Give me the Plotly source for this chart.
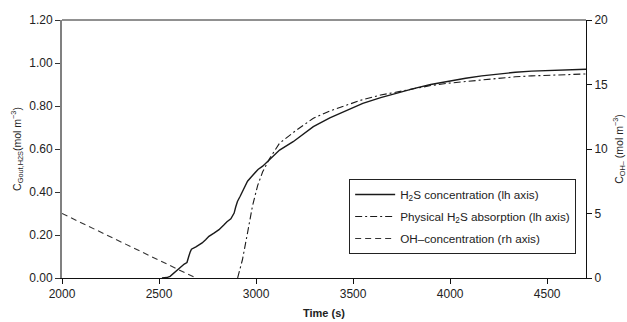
import plotly.graph_objects as go

# H2S concentration (left axis)
t_h2s = [2515, 2540, 2557, 2570, 2583, 2600, 2618, 2630, 2644, 2650, 2653, 2660, 2667, 2690,
         2722, 2740, 2757, 2785, 2809, 2835, 2850, 2870, 2887, 2895, 2904, 2918, 2930, 2945,
         2956, 2975, 2991, 3010, 3034, 3069, 3121, 3191, 3295, 3380, 3469, 3550, 3642, 3730,
         3816, 3900, 3990, 4080, 4163, 4250, 4336, 4420, 4510, 4600, 4700]
c_h2s = [0.0, 0.002, 0.008, 0.018, 0.03, 0.045, 0.057, 0.065, 0.072, 0.085, 0.10, 0.12, 0.134,
         0.145, 0.163, 0.178, 0.194, 0.21, 0.225, 0.248, 0.262, 0.275, 0.302, 0.33, 0.356, 0.38,
         0.40, 0.43, 0.45, 0.47, 0.488, 0.505, 0.52, 0.55, 0.595, 0.634, 0.704, 0.745, 0.781,
         0.812, 0.839, 0.862, 0.882, 0.90, 0.916, 0.929, 0.94, 0.95, 0.957, 0.962, 0.965, 0.969,
         0.971]

# Physical H2S absorption (left axis)
t_phys = [2905, 2930, 2956, 2982, 3008, 3034, 3069, 3121, 3208, 3295, 3380, 3469, 3550, 3642,
          3730, 3816, 3900, 3990, 4080, 4163, 4250, 4336, 4420, 4510, 4600, 4700]
c_phys = [0.0, 0.086, 0.21, 0.337, 0.43, 0.494, 0.555, 0.627, 0.688, 0.743, 0.777, 0.805, 0.83,
          0.851, 0.867, 0.882, 0.895, 0.906, 0.914, 0.921, 0.929, 0.936, 0.94, 0.943, 0.946, 0.949]

# OH- concentration (right axis)
t_oh = [2000, 2200, 2400, 2600, 2690]
c_oh = [5.0, 3.55, 2.1, 0.65, 0.0]

x_ticks = [2000, 2500, 3000, 3500, 4000, 4500]
yl_ticks = [0.0, 0.2, 0.4, 0.6, 0.8, 1.0, 1.2]
yr_ticks = [0, 5, 10, 15, 20]

FONT = "Liberation Sans, Arial, sans-serif"
ink = "#222222"

fig = go.Figure()
fig.add_trace(go.Scatter(x=t_h2s, y=c_h2s, mode="lines", legendgroup="a",
                         name="H<sub>2</sub>S concentration (lh axis)",
                         line=dict(color="#1a1a1a", width=1.4)))
fig.add_trace(go.Scatter(x=t_phys, y=c_phys, mode="lines", legendgroup="b",
                         name="Physical H<sub>2</sub>S absorption (lh axis)",
                         line=dict(color="#1a1a1a", width=1.1, dash="7px,3px,2px,3px")))
fig.add_trace(go.Scatter(x=t_oh, y=c_oh, mode="lines", yaxis="y2", legendgroup="c",
                         name="OH\u2013concentration (rh axis)",
                         line=dict(color="#333333", width=1.1, dash="6px,4px")))

fig.update_layout(
    width=627, height=322,
    margin=dict(l=62, r=41, t=20, b=44),
    paper_bgcolor="white", plot_bgcolor="white",
    font=dict(family=FONT, size=12, color=ink),
    showlegend=True,
    legend=dict(x=0.548, y=0.384, xanchor="left", yanchor="top",
                bordercolor="#222222", borderwidth=1, bgcolor="white",
                font=dict(family=FONT, size=11.7, color=ink),
                traceorder="grouped", tracegroupgap=3, itemwidth=40),
    xaxis=dict(range=[2000, 4700], tickvals=x_ticks, ticktext=[str(v) for v in x_ticks],
               automargin=False,
               showgrid=False, zeroline=False, showline=True, linecolor="#111111", linewidth=1,
               ticks="outside", ticklen=5, tickcolor="#111111",
               title=dict(text="<b>Time (s)</b>", font=dict(size=11, family=FONT, color=ink), standoff=8)),
    yaxis=dict(range=[0, 1.2], tickvals=yl_ticks, ticktext=["%.2f" % v for v in yl_ticks],
               automargin=False,
               showgrid=False, zeroline=False, showline=True, linecolor="#808080", linewidth=2,
               ticks="outside", ticklen=5, tickcolor="#333333",
               title=dict(text="C<sub>Gout,H2S</sub>(mol m<sup>\u22123</sup>)",
                          font=dict(size=10.5, family=FONT, color=ink), standoff=6)),
    yaxis2=dict(range=[0, 20], tickvals=yr_ticks, ticktext=[str(v) for v in yr_ticks],
                overlaying="y", side="right", anchor="x", automargin=False,
                showgrid=False, zeroline=False, showline=True, linecolor="#111111", linewidth=1,
                ticks="outside", ticklen=5, tickcolor="#111111",
                title=dict(text="C<sub>OH\u2013</sub> (mol m<sup>\u22123</sup>)",
                           font=dict(size=10.5, family=FONT, color=ink), standoff=8)),
    shapes=[dict(type="line", xref="paper", yref="paper", x0=0, x1=1, y0=1, y1=1,
                 line=dict(color="#222222", width=1))],
)

fig.write_html("out.html")
